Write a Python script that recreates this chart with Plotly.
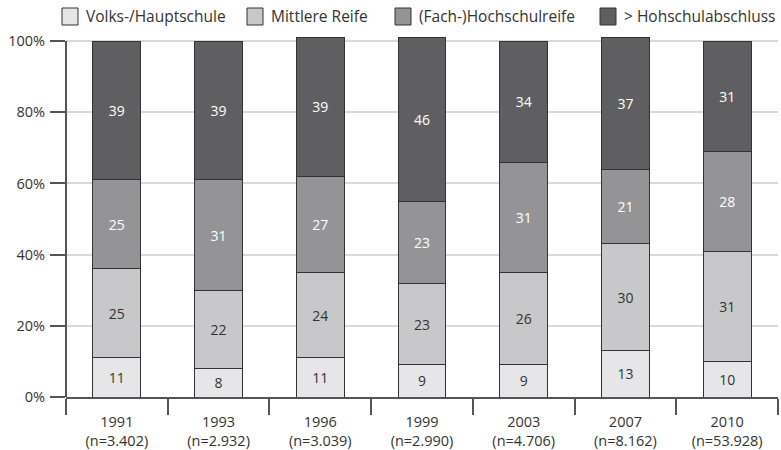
import plotly.graph_objects as go

years = ["1991", "1993", "1996", "1999", "2003", "2007", "2010"]
ns = ["3.402", "2.932", "3.039", "2.990", "4.706", "8.162", "53.928"]
series_names = ["Volks-/Hauptschule", "Mittlere Reife", "(Fach-)Hochschulreife", "> Hohschulabschluss"]
volks = [11, 8, 11, 9, 9, 13, 10]
mittlere = [25, 22, 24, 23, 26, 30, 31]
fach = [25, 31, 27, 23, 31, 21, 28]
hoch = [39, 39, 39, 46, 34, 37, 31]
y_ticks = [0, 20, 40, 60, 80, 100]

colors = ["#e6e6e8", "#c8c8ca", "#949497", "#5f5f61"]
text_colors = ["#333333", "#333333", "#ffffff", "#ffffff"]
cats = [f"{y}<br>(n={n})" for y, n in zip(years, ns)]
FONT = "Open Sans"

W, H = 781, 450
ML, MR, MT, MB = 66, 3, 34, 53

fig = go.Figure()
for name, vals, c, tc in zip(series_names, [volks, mittlere, fach, hoch], colors, text_colors):
    fig.add_trace(go.Bar(
        x=cats, y=vals, name=name,
        marker=dict(color=c, line=dict(color="#333333", width=1)),
        text=[str(v) for v in vals], textposition="inside", insidetextanchor="middle",
        textfont=dict(color=tc, size=14, family=FONT),
        textangle=0, showlegend=False,
    ))

# manual legend (boxes + labels) in pixel-based paper coords
pw = W - ML - MR
ph = H - MT - MB
def px_x(x):
    return (x - ML) / pw
def px_y(y):
    return (H - MB - y) / ph

legend_box_x = [62, 247, 395, 600]
for name, c, bx in zip(series_names, colors, legend_box_x):
    fig.add_shape(type="rect", xref="paper", yref="paper",
                  x0=px_x(bx), x1=px_x(bx + 16), y0=px_y(25), y1=px_y(8),
                  fillcolor=c, line=dict(color="#333333", width=1))
    fig.add_annotation(xref="paper", yref="paper", x=px_x(bx + 22), y=px_y(16.5),
                       text=name, showarrow=False, xanchor="left", yanchor="middle",
                       font=dict(family=FONT, size=15.5, color="#333333"))

fig.update_layout(
    barmode="stack",
    bargap=0.53,
    width=W, height=H,
    margin=dict(l=ML, r=MR, t=MT, b=MB),
    plot_bgcolor="white", paper_bgcolor="white",
    font=dict(family=FONT, size=14, color="#333333"),
    showlegend=False,
    uniformtext=dict(minsize=14, mode="show"),
)
fig.update_xaxes(
    automargin=False,
    showline=True, linecolor="#555555", linewidth=2,
    ticks="outside", tickson="boundaries", ticklen=16, tickwidth=2, tickcolor="#555555",
    showgrid=False, tickfont=dict(size=14.5, color="#333333"), ticklabelstandoff=11,
)
fig.update_yaxes(
    automargin=False,
    range=[0, 102], tickvals=y_ticks, ticktext=[f"{t}%" for t in y_ticks],
    showgrid=True, gridcolor="#d9d9d9", gridwidth=2,
    showline=False, ticks="outside", ticklen=15, tickwidth=2, tickcolor="#555555",
    zeroline=False, tickfont=dict(size=14.5, color="#333333"), ticklabelstandoff=2,
)
fig.add_shape(type="line", xref="paper", yref="y", x0=0, x1=0, y0=0, y1=100,
              line=dict(color="#555555", width=2), layer="above")
fig.write_html("out.html",
               config={"displayModeBar": False, "staticPlot": True},
               post_script="document.body.style.margin='0';document.body.style.overflow='hidden';")
